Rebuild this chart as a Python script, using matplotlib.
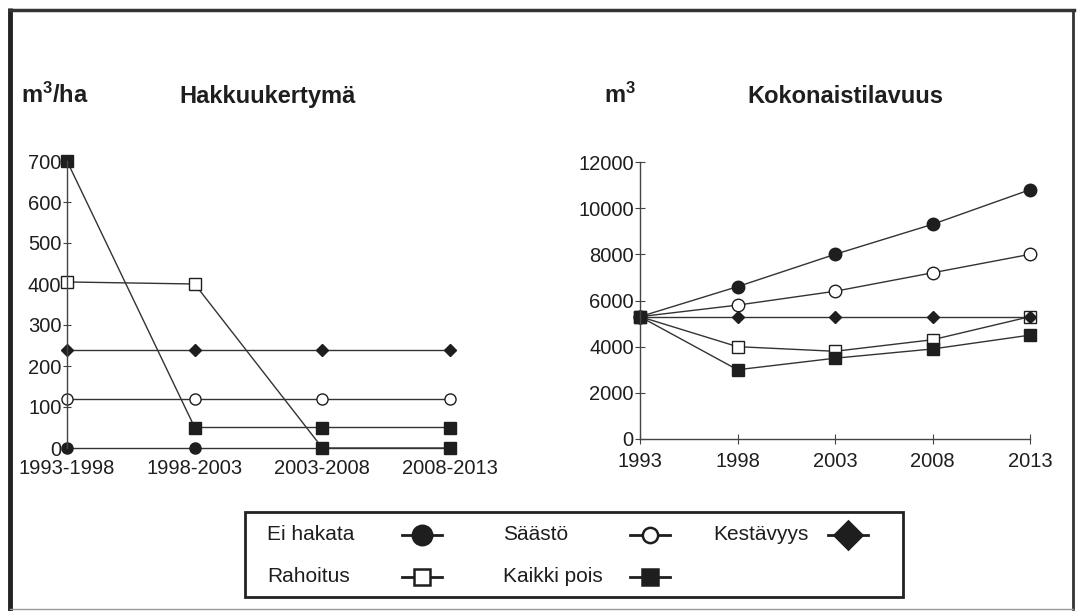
import matplotlib
matplotlib.use('Agg')
import matplotlib.pyplot as plt
from matplotlib.lines import Line2D

plt.rcParams['font.family'] = ['Liberation Sans', 'DejaVu Sans']
plt.rcParams['mathtext.fontset'] = 'custom'
plt.rcParams['mathtext.rm'] = 'Liberation Sans'
plt.rcParams['mathtext.bf'] = 'Liberation Sans:bold'

# Hakkuukertymä (m3/ha) per period
periods = ['1993-1998', '1998-2003', '2003-2008', '2008-2013']
cut_ei_hakata = [0, 0, 0, 0]
cut_saasto = [120, 120, 120, 120]
cut_kestavyys = [240, 240, 240, 240]
cut_rahoitus = [405, 400, 0, 0]
cut_kaikki_pois = [700, 50, 50, 50]

# Kokonaistilavuus (m3) per year
years = [1993, 1998, 2003, 2008, 2013]
vol_ei_hakata = [5300, 6600, 8000, 9300, 10800]
vol_saasto = [5300, 5800, 6400, 7200, 8000]
vol_kestavyys = [5300, 5300, 5300, 5300, 5300]
vol_rahoitus = [5300, 4000, 3800, 4300, 5300]
vol_kaikki_pois = [5300, 3000, 3500, 3900, 4500]

ink = '#1e1e1e'
W, H = 1077, 611

fig = plt.figure(figsize=(W / 100, H / 100), dpi=100)

# background layer in pixel coordinates for frame, titles and legend
bg = fig.add_axes([0, 0, 1, 1], zorder=0)
bg.set_xlim(0, W)
bg.set_ylim(H, 0)
bg.axis('off')

bg.plot([10, 10], [8, 611], color='#222', lw=3.5, solid_capstyle='butt')
bg.plot([10, 1074], [10, 10], color='#333', lw=2.5)
bg.plot([1073, 1073], [10, 609], color='#333', lw=2)
bg.plot([10, 1073], [609, 609], color='#999', lw=1)

tkw = dict(fontsize=17, fontweight='bold', color=ink, va='baseline')
bg.text(21, 103, r'$\mathbf{m^3}$/ha', **tkw)
bg.text(179, 103, 'Hakkuukertymä', **tkw)
bg.text(604, 103, r'$\mathbf{m^3}$', **tkw)
bg.text(747, 103, 'Kokonaistilavuus', **tkw)

styles = {
    'Ei hakata': dict(marker='o', mfc=ink, mec=ink),
    'Säästö': dict(marker='o', mfc='white', mec=ink),
    'Kestävyys': dict(marker='D', mfc=ink, mec=ink),
    'Rahoitus': dict(marker='s', mfc='white', mec=ink),
    'Kaikki pois': dict(marker='s', mfc=ink, mec=ink),
}

# left chart
ax1 = fig.add_axes([67 / W, (H - 448) / H, 3.2 * 127.7 / W, 287 / H], zorder=2)
ax1.patch.set_alpha(0)
x = list(range(len(periods)))
kw = dict(color='#333', lw=1, clip_on=False)
ax1.plot(x, cut_ei_hakata, ms=8, **styles['Ei hakata'], **kw)
ax1.plot(x, cut_saasto, ms=8, **styles['Säästö'], **kw)
ax1.plot(x, cut_kestavyys, ms=6, **styles['Kestävyys'], **kw)
ax1.plot(x, cut_rahoitus, ms=8, markevery=[0, 1], **styles['Rahoitus'], **kw)
ax1.plot(x[2:], cut_rahoitus[2:], ls='none', ms=8, **styles['Kaikki pois'], clip_on=False)
ax1.plot(x, cut_kaikki_pois, ms=8, **styles['Kaikki pois'], **kw)
ax1.set_xlim(0, 3.2)
ax1.set_ylim(0, 700)
ax1.set_yticks(range(0, 701, 100))
ax1.set_xticks(x)
ax1.set_xticklabels(periods)
for s in ['top', 'right', 'bottom']:
    ax1.spines[s].set_visible(False)
ax1.spines['left'].set_color('#444')
ax1.spines['left'].set_linewidth(1)
ax1.tick_params(axis='y', direction='inout', length=6, width=0.8, color='#444',
                pad=1, labelsize=14.5, labelcolor=ink)
ax1.tick_params(axis='x', length=0, pad=8, labelsize=14.5, labelcolor=ink)

# right chart
ax2 = fig.add_axes([640 / W, (H - 439) / H, 390 / W, 277 / H], zorder=2)
ax2.patch.set_alpha(0)
ax2.plot(years, vol_ei_hakata, ms=9, **styles['Ei hakata'], **kw)
ax2.plot(years, vol_saasto, ms=9, **styles['Säästö'], **kw)
ax2.plot(years, vol_rahoitus, ms=9, **styles['Rahoitus'], **kw)
ax2.plot(years, vol_kestavyys, ms=6.5, **styles['Kestävyys'], **kw)
ax2.plot(years, vol_kaikki_pois, ms=9, **styles['Kaikki pois'], **kw)
ax2.set_xlim(1993, 2013)
ax2.set_ylim(0, 12000)
ax2.set_xticks(years)
ax2.set_yticks(range(0, 12001, 2000))
for s in ['top', 'right']:
    ax2.spines[s].set_visible(False)
for s in ['left', 'bottom']:
    ax2.spines[s].set_color('#444')
    ax2.spines[s].set_linewidth(1)
ax2.tick_params(direction='inout', length=7, width=0.8, color='#444',
                labelsize=14.5, labelcolor=ink)
ax2.tick_params(axis='y', pad=1)
ax2.tick_params(axis='x', pad=6)

# legend box
bg.add_patch(plt.Rectangle((245, 512), 658, 85, fill=False, ec='#222', lw=2, zorder=3))
legend_items = [
    ('Ei hakata', 267, 422, 535, 14),
    ('Säästö', 503, 650, 535, 11),
    ('Kestävyys', 713, 848, 535, 14),
    ('Rahoitus', 267, 422, 577, 11),
    ('Kaikki pois', 503, 650, 577, 11),
]
for name, tx, mx, yy, size in legend_items:
    bg.text(tx, yy, name, fontsize=15, color=ink, va='center', zorder=4)
    bg.add_line(Line2D([mx - 20, mx + 20], [yy, yy], color=ink, lw=2, zorder=4))
    bg.add_line(Line2D([mx], [yy], ls='none', ms=size, mew=1.8, zorder=5,
                       **styles[name]))

fig.savefig('out.png', dpi=100)
